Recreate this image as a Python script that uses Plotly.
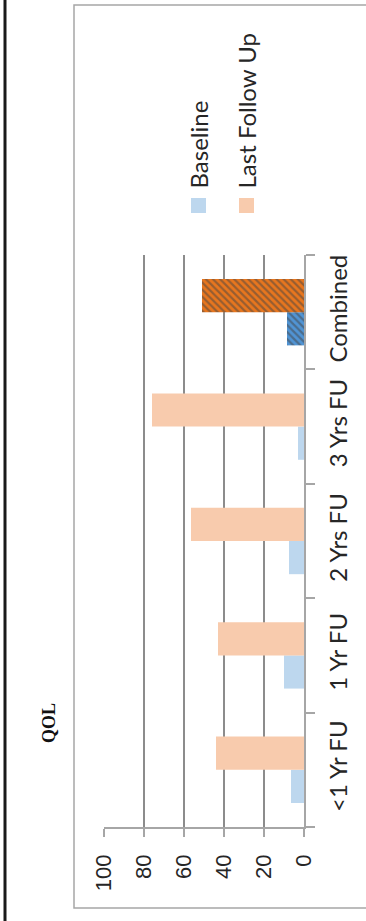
import plotly.graph_objects as go

W, H = 366, 921

# Data
categories = ["<1 Yr FU", "1 Yr FU", "2 Yrs FU", "3 Yrs FU", "Combined"]
baseline = [6.5, 10, 7.5, 3, 8.5]
last_follow_up = [44, 43, 56.5, 76, 51]
value_ticks = [0, 20, 40, 60, 80, 100]

# Colours
base_light = "#BDD7EE"
base_dark = "#5094D4"
fu_light = "#F8CBAD"
fu_dark = "#E8761E"
grid_col = "#8C8C8C"
axis_col = "#A6A6A6"
text_col = "#262626"


def fx(px):
    return px / W


def fy(py):
    return 1 - py / H


n = len(categories)
base_colors = [base_light] * (n - 1) + [base_dark]
fu_colors = [fu_light] * (n - 1) + [fu_dark]
hatch = [""] * (n - 1) + ["\\"]

fig = go.Figure()
fig.add_trace(go.Bar(
    y=categories, x=baseline, orientation="h", name="Baseline",
    marker=dict(color=base_colors, line=dict(width=0),
                pattern=dict(shape=hatch, fgcolor="#1A1208", size=5, solidity=0.45)),
))
fig.add_trace(go.Bar(
    y=categories, x=last_follow_up, orientation="h", name="Last Follow Up",
    marker=dict(color=fu_colors, line=dict(width=0),
                pattern=dict(shape=hatch, fgcolor="#1A1208", size=5, solidity=0.45)),
))

fig.update_layout(
    width=W, height=H,
    margin=dict(l=0, r=0, t=0, b=0),
    paper_bgcolor="white", plot_bgcolor="white",
    barmode="group", bargap=0.42, bargroupgap=0,
    showlegend=False,
    xaxis=dict(
        domain=[fx(104), fx(304)], automargin=False,
        range=[100, 0], tickvals=value_ticks,
        showgrid=True, gridcolor=grid_col, gridwidth=2,
        showline=True, linecolor=axis_col, linewidth=1.5,
        ticks="outside", ticklen=8, tickcolor=axis_col, tickwidth=1.5,
        tickangle=-90, ticklabelstandoff=9,
        tickfont=dict(family="Liberation Sans", size=22, color=text_col),
        zeroline=False, fixedrange=True,
    ),
    yaxis=dict(
        domain=[fy(827), fy(255)], automargin=False,
        side="right", type="category",
        showgrid=False, zeroline=False,
        showline=True, linecolor=axis_col, linewidth=1.5,
        ticks="outside", ticklen=9, tickcolor=axis_col, tickwidth=1.5,
        tickson="boundaries",
        tickangle=-90, ticklabelstandoff=12,
        tickfont=dict(family="Lato", size=24, color=text_col),
        fixedrange=True,
    ),
)

# Outer frame and left rule
fig.add_shape(type="rect", xref="paper", yref="paper",
              x0=fx(74), x1=1.05, y0=fy(908), y1=fy(5),
              line=dict(color=axis_col, width=1.5), layer="below")
fig.add_shape(type="line", xref="paper", yref="paper",
              x0=fx(5), x1=fx(5), y0=0, y1=1,
              line=dict(color="#1A1A1A", width=3))

# Title
fig.add_annotation(text="<b>QOL</b>", xref="paper", yref="paper",
                   x=fx(49), y=fy(723), textangle=-90, showarrow=False,
                   xanchor="center", yanchor="middle",
                   font=dict(family="Liberation Serif", size=18, color="#111111"))

# Legend drawn rotated
legend_items = [("Baseline", base_light, 198.5), ("Last Follow Up", fu_light, 246.5)]
for label, col, cx in legend_items:
    fig.add_shape(type="rect", xref="paper", yref="paper",
                  x0=fx(cx - 7.5), x1=fx(cx + 7.5), y0=fy(213), y1=fy(198),
                  fillcolor=col, line=dict(width=0))
    fig.add_annotation(text=label, xref="paper", yref="paper",
                       x=fx(cx), y=fy(191), textangle=-90, showarrow=False,
                       xanchor="center", yanchor="bottom",
                       font=dict(family="Lato", size=24, color=text_col))

fig.write_html("out.html")
